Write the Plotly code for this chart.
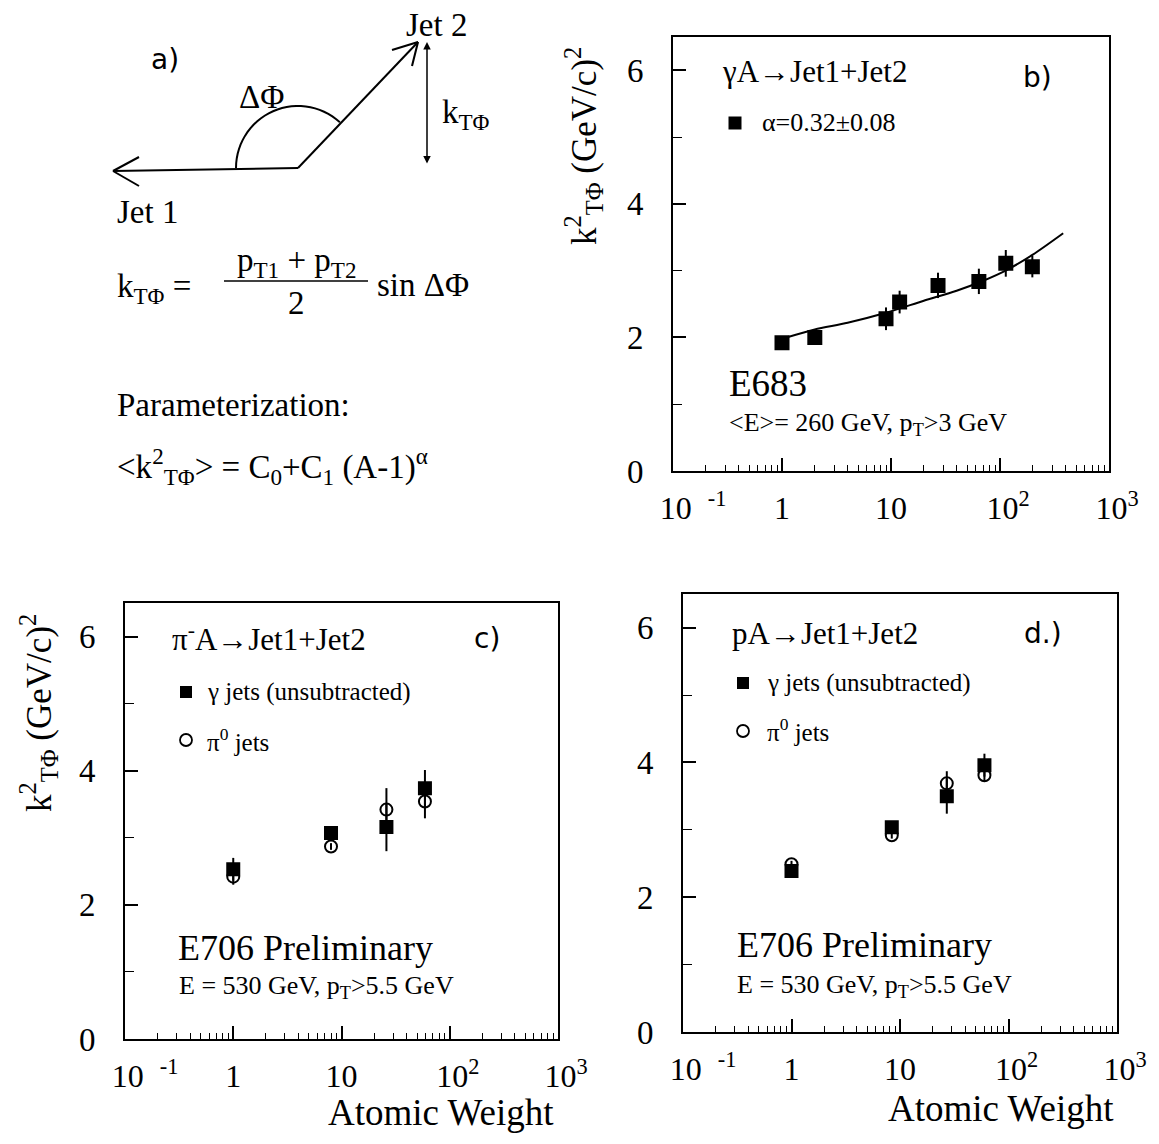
import math
import plotly.graph_objects as go

W, H = 1159, 1144
OFF = 8  # page body margin of the html page
SERIF = "Liberation Serif, Times New Roman, serif"
HAND = "DejaVu Sans, sans-serif"


def px(x):
    return (x - OFF) / W


def py(y):
    return 1 - (y - OFF) / H


# ---------------- data ----------------
# panel b : E683, gamma A -> Jet1+Jet2
b_A = [1, 2, 9, 12, 27, 64, 113, 198]
b_k2 = [1.92, 2.00, 2.28, 2.53, 2.78, 2.84, 3.11, 3.06]
b_err = [0.08, 0.08, 0.17, 0.17, 0.19, 0.19, 0.20, 0.16]
# fit curve
b_fit_A = [1.1, 2, 4, 9, 20, 40, 70, 115, 200, 380]
b_fit_k2 = [2.00, 2.12, 2.22, 2.37, 2.55, 2.70, 2.85, 3.01, 3.24, 3.56]

# panel c : E706, pi- A
c_A = [1, 8, 26, 59]
c_gamma = [2.53, 3.07, 3.16, 3.74]
c_gamma_err = [0.17, 0.05, 0.36, 0.27]
c_pi0 = [2.42, 2.87, 3.42, 3.54]
c_pi0_err = [0.12, 0.05, 0.32, 0.25]

# panel d : E706, p A
d_A = [1, 8.4, 27, 60]
d_gamma = [2.39, 3.04, 3.50, 3.96]
d_gamma_err = [0.06, 0.05, 0.26, 0.17]
d_pi0 = [2.49, 2.92, 3.69, 3.81]
d_pi0_err = [0.05, 0.05, 0.18, 0.09]

x_tickvals = [0.1, 1, 10, 100, 1000]
x_ticktext = ["&nbsp;&nbsp;&nbsp;&nbsp;&nbsp;10&nbsp;&nbsp;<sup>-1</sup>", "1", "10",
              "&nbsp;&nbsp;10<sup>2</sup>", "&nbsp;&nbsp;10<sup>3</sup>"]
x_minor = [m * d for d in [0.1, 1, 10, 100] for m in [2, 3, 4, 5, 6, 7, 8, 9]]
y_tickvals = [0, 2, 4, 6]
y_ticktext = ["0", "2", "4", "6"]
y_minor = [1, 3, 5]

fig = go.Figure()


def add_points(xa, ya, A, vals, errs, symbol, size):
    fig.add_trace(go.Scatter(
        x=A, y=vals, mode="markers", xaxis=xa, yaxis=ya,
        marker=dict(symbol=symbol, size=size, color="black",
                    line=dict(color="black", width=2)),
        error_y=dict(type="data", array=errs, visible=True, thickness=2,
                     width=0, color="black"),
        showlegend=False, hoverinfo="skip"))


# panel b
fig.add_trace(go.Scatter(x=b_fit_A, y=b_fit_k2, mode="lines", xaxis="x", yaxis="y",
                         line=dict(color="black", width=2, shape="spline", smoothing=0.8),
                         showlegend=False, hoverinfo="skip"))
add_points("x", "y", b_A, b_k2, b_err, "square", 13)
# panel c
add_points("x2", "y2", c_A, c_pi0, c_pi0_err, "circle-open", 12)
add_points("x2", "y2", c_A, c_gamma, c_gamma_err, "square", 12)
# panel d
add_points("x3", "y3", d_A, d_pi0, d_pi0_err, "circle-open", 12)
add_points("x3", "y3", d_A, d_gamma, d_gamma_err, "square", 12)


def xcfg(domain, anchor):
    return dict(type="log", range=[-1, 3], domain=domain, anchor=anchor,
                automargin=False,
                tickmode="array", tickvals=x_tickvals, ticktext=x_ticktext,
                ticks="inside", ticklen=13, tickwidth=1.5, tickcolor="black",
                minor=dict(tickmode="array", tickvals=x_minor, ticks="inside",
                           ticklen=6, tickwidth=1.2, tickcolor="black", showgrid=False),
                showline=True, linewidth=2, linecolor="black", mirror=True,
                showgrid=False, zeroline=False, ticklabelstandoff=8,
                tickfont=dict(family=SERIF, size=32, color="black"))


def ycfg(domain, anchor):
    return dict(range=[0, 6.5], domain=domain, anchor=anchor,
                automargin=False,
                tickmode="array", tickvals=y_tickvals, ticktext=y_ticktext,
                ticks="inside", ticklen=13, tickwidth=1.5, tickcolor="black",
                minor=dict(tickmode="array", tickvals=y_minor, ticks="inside",
                           ticklen=9, tickwidth=1.2, tickcolor="black", showgrid=False),
                showline=True, linewidth=2, linecolor="black", mirror=True,
                showgrid=False, zeroline=False, ticklabelstandoff=21,
                tickfont=dict(family=SERIF, size=33, color="black"))


fig.update_layout(
    width=W, height=H, margin=dict(l=0, r=0, t=0, b=0, pad=0, autoexpand=False),
    paper_bgcolor="white", plot_bgcolor="white", showlegend=False,
    xaxis=xcfg([px(673), px(1109)], "y"),
    yaxis=ycfg([py(471), py(37)], "x"),
    xaxis2=xcfg([px(125), px(558)], "y2"),
    yaxis2=ycfg([py(1039), py(603)], "x2"),
    xaxis3=xcfg([px(683), px(1117)], "y3"),
    yaxis3=ycfg([py(1032), py(594)], "x3"),
)

# ---------------- panel a diagram ----------------
shapes = []


def seg(x0, y0, x1, y1, w=2):
    shapes.append(dict(type="line", xref="paper", yref="paper",
                       x0=px(x0), y0=py(y0), x1=px(x1), y1=py(y1),
                       line=dict(color="black", width=w)))


seg(113, 171, 298, 168)          # jet 1
seg(113, 171, 139, 157)
seg(113, 171, 139, 186)
seg(298, 168, 418, 42)           # jet 2
seg(418, 42, 392, 50)
seg(418, 42, 412, 66)

# delta-phi arc (centre at the vertex)
cx, cy, r = 298, 168, 62
pts = []
for i in range(31):
    ang = math.radians(180 - i * (180 - 47.5) / 30)
    pts.append((cx + r * math.cos(ang), cy - r * math.sin(ang)))
path = "M " + " L ".join(f"{px(x):.5f},{py(y):.5f}" for x, y in pts)
shapes.append(dict(type="path", xref="paper", yref="paper", path=path,
                   line=dict(color="black", width=2)))

# fraction bar
seg(224, 281, 368, 281, 1.5)

ann = []


def txt(x, y, s, size=33, xanchor="center", family=SERIF, yanchor="middle", angle=0):
    ann.append(dict(x=px(x), y=py(y), xref="paper", yref="paper", text=s,
                    showarrow=False, xanchor=xanchor, yanchor=yanchor, textangle=angle,
                    font=dict(family=family, size=size, color="black")))


# k_T double arrow
ann.append(dict(x=px(427), y=py(42), xref="paper", yref="paper", text="",
                showarrow=True, ax=0, ay=123, arrowside="end+start",
                arrowhead=2, startarrowhead=2, arrowsize=1, startarrowsize=1,
                arrowwidth=1.5, arrowcolor="black"))

txt(165, 59, "a)", 28, family=HAND)
txt(261, 97, "ΔΦ", 33)
txt(436, 25, "Jet 2", 33)
txt(440, 114, "k<sub>TΦ</sub>", 33, xanchor="left")
txt(115, 212, "Jet 1", 33, xanchor="left")
txt(115, 288, "k<sub>TΦ</sub> =", 33, xanchor="left")
txt(296, 262, "p<sub>T1</sub> + p<sub>T2</sub>", 33)
txt(296, 303, "2", 33)
txt(375, 285, "sin ΔΦ", 33, xanchor="left")
txt(115, 405, "Parameterization:", 33, xanchor="left")
txt(115, 466, "&lt;k<sup>2</sup><sub>TΦ</sub>&gt; = C<sub>0</sub>+C<sub>1</sub> (A-1)<sup>α</sup>",
    33, xanchor="left")

# ---------------- panel b texts ----------------
txt(720, 71, "γA→Jet1+Jet2", 31, xanchor="left")
txt(1037, 77, "b)", 28, family=HAND)
txt(760, 122, "α=0.32±0.08", 26, xanchor="left")
txt(727, 384, "E683", 37, xanchor="left")
txt(727, 424, "&lt;E&gt;= 260 GeV, p<sub>T</sub>&gt;3 GeV", 26, xanchor="left")
txt(583, 146, "k<sup>2</sup><sub>TΦ</sub> (GeV/c)<sup>2</sup>", 35, angle=-90)

# ---------------- panel c texts ----------------
txt(170, 637, "π<sup>-</sup>A→Jet1+Jet2", 31, xanchor="left")
txt(487, 638, "c)", 28, family=HAND)
txt(205, 692, "γ jets (unsubtracted)", 25, xanchor="left")
txt(205, 740, "π<sup>0</sup> jets", 25, xanchor="left")
txt(176, 948, "E706 Preliminary", 36, xanchor="left")
txt(177, 987, "E = 530 GeV, p<sub>T</sub>&gt;5.5 GeV", 26, xanchor="left")
txt(38, 713, "k<sup>2</sup><sub>TΦ</sub> (GeV/c)<sup>2</sup>", 35, angle=-90)
txt(556, 1112, "Atomic Weight", 37, xanchor="right")

# ---------------- panel d texts ----------------
txt(730, 633, "pA→Jet1+Jet2", 31, xanchor="left")
txt(1043, 633, "d.)", 28, family=HAND)
txt(765, 683, "γ jets (unsubtracted)", 25, xanchor="left")
txt(765, 730, "π<sup>0</sup> jets", 25, xanchor="left")
txt(735, 945, "E706 Preliminary", 36, xanchor="left")
txt(735, 986, "E = 530 GeV, p<sub>T</sub>&gt;5.5 GeV", 26, xanchor="left")
txt(1116, 1108, "Atomic Weight", 37, xanchor="right")


# legend keys
def key_square(x, y, s=6.5):
    shapes.append(dict(type="rect", xref="paper", yref="paper",
                       x0=px(x - s), x1=px(x + s), y0=py(y + s), y1=py(y - s),
                       fillcolor="black", line=dict(color="black", width=0)))


def key_circle(x, y, r=6):
    shapes.append(dict(type="circle", xref="paper", yref="paper",
                       x0=px(x - r), x1=px(x + r), y0=py(y + r), y1=py(y - r),
                       line=dict(color="black", width=1.8)))


key_square(735, 123)
key_square(186, 692, 6)
key_circle(186, 740)
key_square(743, 683, 6)
key_circle(743, 731)

fig.update_layout(shapes=shapes, annotations=ann)

fig.write_html("out.html")
